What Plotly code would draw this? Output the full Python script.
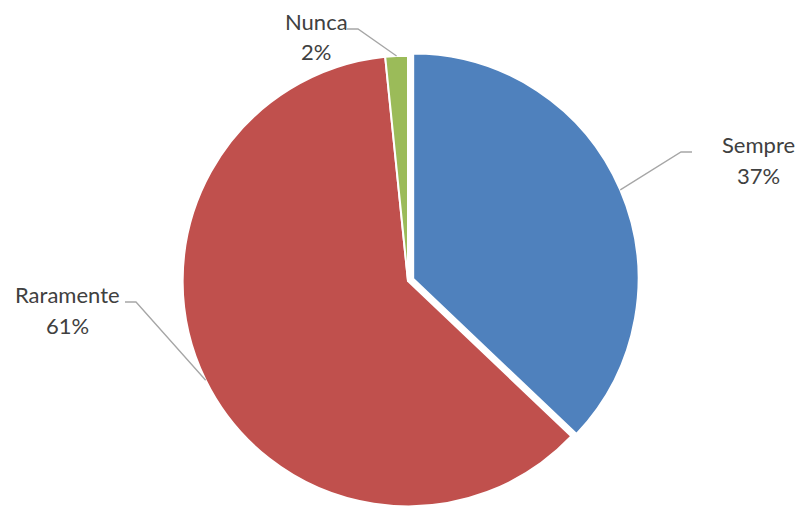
import math
import plotly.graph_objects as go

categories = ["Sempre", "Raramente", "Nunca"]
values = [23, 38, 1]
colors = ["#4F81BD", "#C0504D", "#9BBB59"]
pulls = [0.025, 0, 0]

W, H = 798, 512
# pie geometry (pixels)
dom_px = 462
cx, cy = 408, H - dom_px / 2
r = dom_px / 2 / (1 + max(pulls))

fig = go.Figure(go.Pie(
    labels=categories, values=values, sort=False, direction="clockwise", rotation=0,
    marker=dict(colors=colors, line=dict(color="white", width=2)),
    pull=pulls, textinfo="none", hoverinfo="label+percent", showlegend=False,
    domain=dict(x=[(cx - dom_px / 2) / W, (cx + dom_px / 2) / W], y=[0, dom_px / H]),
))

total = sum(values)
# label layout: (text center x, name y, pct y, elbow x, end-of-line x) in px
label_pos = {
    "Sempre": (758, 144, 175, 681, 692),
    "Raramente": (67, 294, 325, 136, 125),
    "Nunca": (316, 21, 51, 358, 347),
}
font = dict(family="Lato, Carlito, Calibri, sans-serif", size=22, color="#404040")
annotations, shapes = [], []
cum = 0
for cat, v, p in zip(categories, values, pulls):
    mid = (cum + v / 2) / total * 2 * math.pi
    cum += v
    sx, sy = math.sin(mid), -math.cos(mid)
    ox, oy = cx + sx * r * p, cy + sy * r * p
    ex, ey = ox + sx * r, oy + sy * r
    tx, ny, py, elx, endx = label_pos[cat]
    ly = ny + 8
    pct = f"{round(v / total * 100)}%"
    for txt, yy in ((cat, ny), (pct, py)):
        annotations.append(dict(x=tx / W, y=1 - yy / H, xref="paper", yref="paper",
                                text=txt, showarrow=False, font=font,
                                xanchor="center", yanchor="middle"))
    shapes.append(dict(type="path", xref="paper", yref="paper",
                       path=f"M {ex / W} {1 - ey / H} L {elx / W} {1 - ly / H} L {endx / W} {1 - ly / H}",
                       line=dict(color="#A6A6A6", width=1.3)))

fig.update_layout(width=W, height=H, margin=dict(l=0, r=0, t=0, b=0),
                  paper_bgcolor="white", plot_bgcolor="white",
                  annotations=annotations, shapes=shapes)
fig.write_html("out.html", config={"displayModeBar": False},
               post_script="document.body.style.margin='0';document.body.style.overflow='hidden';")
